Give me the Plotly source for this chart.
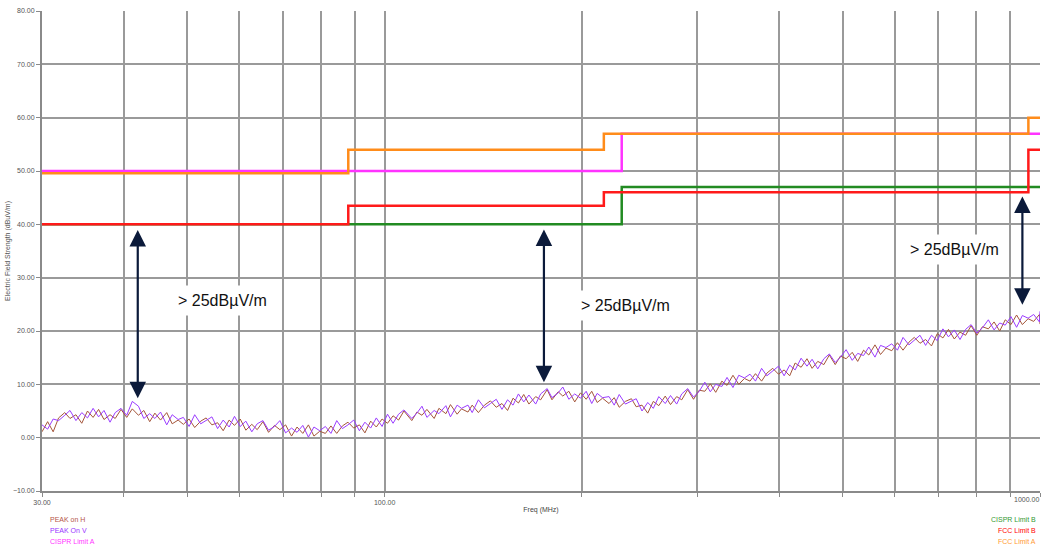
import math

import plotly.graph_objects as go

# sweep frequencies (MHz)
freq = [
    30, 30.6, 31.2, 31.8, 32.5, 33.1, 33.8, 34.5, 35.2, 35.9, 36.6, 37.3, 38.1, 38.8, 39.6,
    40.4, 41.2, 42.1, 42.9, 43.8, 44.6, 45.5, 46.5, 47.4, 48.4,
    49.3, 50.3, 51.3, 52.4, 53.4, 54.5, 55.6, 56.7, 57.9, 59.0, 60.2, 61.4, 62.7, 63.9, 65.2,
    66.5, 67.9, 69.2, 70.6, 72.1, 73.5, 75.0, 76.5, 78.0, 79.6,
    81.2, 82.8, 84.5, 86.2, 87.9, 89.7, 91.5, 93.3, 95.2, 97.1, 99.1, 101, 103, 105, 107,
    110, 112, 114, 116, 119, 121, 124, 126, 129, 131,
    134, 136, 139, 142, 145, 148, 151, 154, 157, 160, 163, 166, 170, 173, 177,
    180, 184, 187, 191, 195, 199, 203, 207, 211, 215,
    220, 224, 228, 233, 238, 242, 247, 252, 257, 262, 268, 273, 279, 284, 290,
    296, 302, 308, 314, 320, 327, 333, 340, 347, 354,
    361, 368, 376, 383, 391, 399, 407, 415, 423, 432, 441, 449, 458, 468, 477,
    487, 496, 506, 517, 527, 538, 548, 560, 571, 582,
    594, 606, 618, 631, 643, 656, 669, 683, 697, 711, 725, 740, 755, 770, 785,
    801, 817, 834, 851, 868, 885, 903, 921, 940, 959, 978, 998, 1000,
]

peak_h = [
    1.1, 3.0, 1.1, 3.7, 4.7, 3.6, 4.3, 2.7, 5.0, 3.8, 5.3, 3.4, 4.3, 3.6, 5.3,
    3.8, 5.4, 4.2, 5.1, 3.0, 4.6, 3.3, 4.7, 2.6, 3.3,
    2.5, 3.5, 1.9, 3.1, 3.7, 2.4, 2.8, 1.3, 3.3, 2.3, 3.5, 1.4, 2.5, 1.5, 3.0,
    1.0, 2.3, 1.5, 2.4, 0.3, 2.0, 0.8, 2.4, 0.3, 1.2,
    0.8, 2.2, 0.8, 2.2, 2.9, 1.8, 2.4, 0.9, 3.1, 2.0, 3.5, 2.7, 4.1, 3.3, 5.0,
    3.2, 4.8, 4.2, 5.3, 3.6, 5.5, 4.5, 6.2, 4.4, 5.4,
    4.8, 6.1, 4.7, 6.1, 6.9, 5.7, 6.4, 5.1, 7.4, 6.5, 8.1, 6.3, 7.7, 7.1, 9.0,
    7.1, 8.6, 7.8, 8.7, 6.7, 8.4, 7.2, 8.7, 6.6, 7.4,
    6.4, 7.5, 5.7, 6.8, 7.3, 5.8, 6.1, 4.6, 6.8, 6.0, 7.8, 6.2, 7.7, 7.1, 9.0,
    7.2, 8.9, 8.7, 10.1, 8.5, 10.6, 9.8, 11.7, 10.0, 11.1,
    10.6, 12.0, 10.6, 12.1, 13.0, 11.9, 12.7, 11.6, 14.0, 13.2, 14.8, 13.0, 14.3, 13.7, 15.5,
    13.7, 15.3, 14.8, 16.0, 14.3, 16.4, 15.5, 17.4, 15.6, 16.8,
    16.3, 17.8, 16.4, 17.9, 18.8, 17.7, 18.4, 17.2, 19.5, 18.7, 20.3, 18.5, 19.8, 19.2, 21.0,
    19.2, 20.8, 20.4, 21.7, 20.0, 22.1, 21.2, 23.0, 21.2, 22.3, 21.8, 23.1, 21.3,
]

peak_v = [
    2.4, 1.6, 3.5, 3.2, 4.2, 5.1, 3.2, 4.7, 3.7, 5.5, 3.9, 5.1, 2.9, 4.7, 5.5,
    4.2, 6.8, 5.9, 3.6, 4.5, 3.6, 4.8, 2.4, 4.3, 3.4,
    3.8, 2.1, 4.3, 2.6, 3.2, 3.9, 1.7, 3.3, 2.0, 4.0, 2.1, 3.1, 1.1, 2.6, 3.2,
    1.4, 2.1, 3.2, 0.9, 1.8, 1.0, 2.3, 0.1, 2.0, 1.3,
    2.1, 0.8, 3.2, 1.7, 2.4, 3.3, 1.3, 2.9, 1.8, 3.7, 2.1, 4.4, 2.7, 4.4, 5.2,
    3.6, 4.6, 5.9, 3.8, 5.1, 4.5, 6.0, 3.9, 6.1, 5.5,
    6.1, 4.7, 7.1, 5.6, 6.4, 7.2, 5.3, 7.1, 6.1, 8.2, 6.7, 8.0, 6.3, 8.2, 9.2,
    7.5, 8.4, 9.5, 7.2, 8.2, 7.4, 8.7, 6.4, 8.3, 7.5,
    7.7, 6.1, 8.1, 6.3, 6.8, 7.3, 5.0, 6.6, 5.5, 7.7, 6.4, 7.9, 6.3, 8.2, 9.2,
    7.6, 8.7, 10.4, 8.6, 10.0, 9.6, 11.3, 9.4, 11.7, 11.2,
    11.9, 10.6, 13.0, 11.6, 12.5, 13.4, 11.6, 13.6, 12.7, 14.9, 13.4, 14.7, 12.9, 14.8, 15.7,
    14.1, 15.1, 16.5, 14.5, 15.8, 15.4, 17.0, 15.1, 17.3, 16.9,
    17.6, 16.4, 18.8, 17.4, 18.3, 19.2, 17.3, 19.2, 18.2, 20.4, 18.9, 20.2, 18.4, 20.3, 21.2,
    19.6, 20.6, 22.1, 20.2, 21.5, 21.1, 22.7, 20.7, 22.9, 22.4, 23.1, 21.7, 23.7,
]

# limit lines (step at each listed frequency)
cispr_a_f = [30, 230, 1000]
cispr_a = [50, 57, 57]
fcc_a_f = [30, 88, 216, 960, 1000]
fcc_a = [49.6, 54, 57, 60, 60]
cispr_b_f = [30, 230, 1000]
cispr_b = [40, 47, 47]
fcc_b_f = [30, 88, 216, 960, 1000]
fcc_b = [40, 43.5, 46, 54, 54]

grid_f = [30, 40, 50, 60, 70, 80, 90, 100, 200, 300, 400, 500, 600, 700, 800, 900, 1000]
grid_txt = ["30.00", "", "", "", "", "", "", "100.00", "", "", "", "", "", "", "", "", ""]
y_ticks = [-10, 0, 10, 20, 30, 40, 50, 60, 70, 80]

# (freq MHz, top dB, bottom dB)
margin_arrows = [(42, 39.2, 7.4), (175, 39.3, 10.4), (940, 45.5, 24.9)]
margin_labels = [(56.5, 25.8), (233, 24.7), (741, 35.2)]
margin_text = "> 25dBµV/m"

FONT = "Liberation Sans, Arial, sans-serif"

fig = go.Figure()
fig.add_trace(go.Scatter(x=freq, y=peak_h, mode="lines", name="PEAK on H",
                         line=dict(color="#a4553a", width=1)))
fig.add_trace(go.Scatter(x=freq, y=peak_v, mode="lines", name="PEAK On V",
                         line=dict(color="#9b3cff", width=1)))
fig.add_trace(go.Scatter(x=cispr_a_f, y=cispr_a, mode="lines", line_shape="hv",
                         name="CISPR Limit A", line=dict(color="#ff33ff", width=2.5)))
fig.add_trace(go.Scatter(x=fcc_a_f, y=fcc_a, mode="lines", line_shape="hv",
                         name="FCC Limit A", line=dict(color="#ff8c1a", width=2.5)))
fig.add_trace(go.Scatter(x=cispr_b_f, y=cispr_b, mode="lines", line_shape="hv",
                         name="CISPR Limit B", line=dict(color="#228b22", width=2.5)))
fig.add_trace(go.Scatter(x=fcc_b_f, y=fcc_b, mode="lines", line_shape="hv",
                         name="FCC Limit B", line=dict(color="#ff1a1a", width=2.5)))

for f, top, bot in margin_arrows:
    fig.add_annotation(x=math.log10(f), y=bot, ax=math.log10(f), ay=top,
                       xref="x", yref="y", axref="x", ayref="y", text="",
                       showarrow=True, arrowhead=2, startarrowhead=2, arrowside="end+start",
                       arrowsize=1.5, startarrowsize=1.5, arrowwidth=2.2, arrowcolor="#0b1a3a")

for f, y in margin_labels:
    fig.add_annotation(x=math.log10(f), y=y, xref="x", yref="y", text=margin_text,
                       showarrow=False, bgcolor="white", borderpad=6,
                       font=dict(family=FONT, size=16, color="#111111"))

legend_left = [("PEAK on H", "#b5554a"), ("PEAK On V", "#9933ff"), ("CISPR Limit A", "#ff33ff")]
legend_right = [("CISPR Limit B", "#339933"), ("FCC Limit B", "#ff0000"), ("FCC Limit A", "#ff9933")]
for i, (txt, col) in enumerate(legend_left):
    fig.add_annotation(x=48, y=519 + 11 * i, xref="paper", yref="paper", text=txt,
                       showarrow=False, xanchor="left", yanchor="middle",
                       font=dict(family=FONT, size=7, color=col))
for i, (txt, col) in enumerate(legend_right):
    fig.add_annotation(x=1038, y=519 + 11 * i, xref="paper", yref="paper", text=txt,
                       showarrow=False, xanchor="right", yanchor="middle",
                       font=dict(family=FONT, size=7, color=col))
# last x tick label sits on the right edge; keep it inside the page
fig.add_annotation(x=1041, y=499, xref="paper", yref="paper", text="1000.00",
                   showarrow=False, xanchor="right", yanchor="middle",
                   font=dict(family=FONT, size=7, color="#555555"))

# paper coords above are pixels; convert
W, H = 1042, 547
ML, MR, MT, MB = 42, 2, 11, 56
pw, ph = W - ML - MR, H - MT - MB
for a in fig.layout.annotations:
    if a.xref == "paper":
        a.x = (a.x - ML) / pw
        a.y = (H - MB - a.y) / ph

fig.update_xaxes(type="log", range=[math.log10(30), 3], tickvals=grid_f, ticktext=grid_txt,
                 showgrid=True, gridcolor="#9a9a9a", gridwidth=1.5,
                 showline=True, linecolor="#8a8a8a", linewidth=2,
                 ticks="outside", ticklen=4, tickcolor="#8a8a8a",
                 tickfont=dict(family=FONT, size=7, color="#555555"),
                 title=dict(text="Freq (MHz)", font=dict(family=FONT, size=7, color="#444444"),
                            standoff=2),
                 zeroline=False, automargin=False)
fig.update_yaxes(range=[-10, 80], tickvals=y_ticks, tickformat=".2f",
                 showgrid=True, gridcolor="#9a9a9a", gridwidth=1.5,
                 showline=True, linecolor="#8a8a8a", linewidth=2,
                 ticks="outside", ticklen=4, tickcolor="#8a8a8a",
                 tickfont=dict(family=FONT, size=7, color="#555555"),
                 title=dict(text="Electric Field Strength (dBuV/m)",
                            font=dict(family=FONT, size=7, color="#555555"), standoff=2),
                 zeroline=False, automargin=False)
fig.update_layout(width=W, height=H, margin=dict(l=ML, r=MR, t=MT, b=MB),
                  plot_bgcolor="white", paper_bgcolor="white", showlegend=False)

fig.write_html("out.html", config={"displayModeBar": False},
               post_script="document.body.style.margin='0';")
